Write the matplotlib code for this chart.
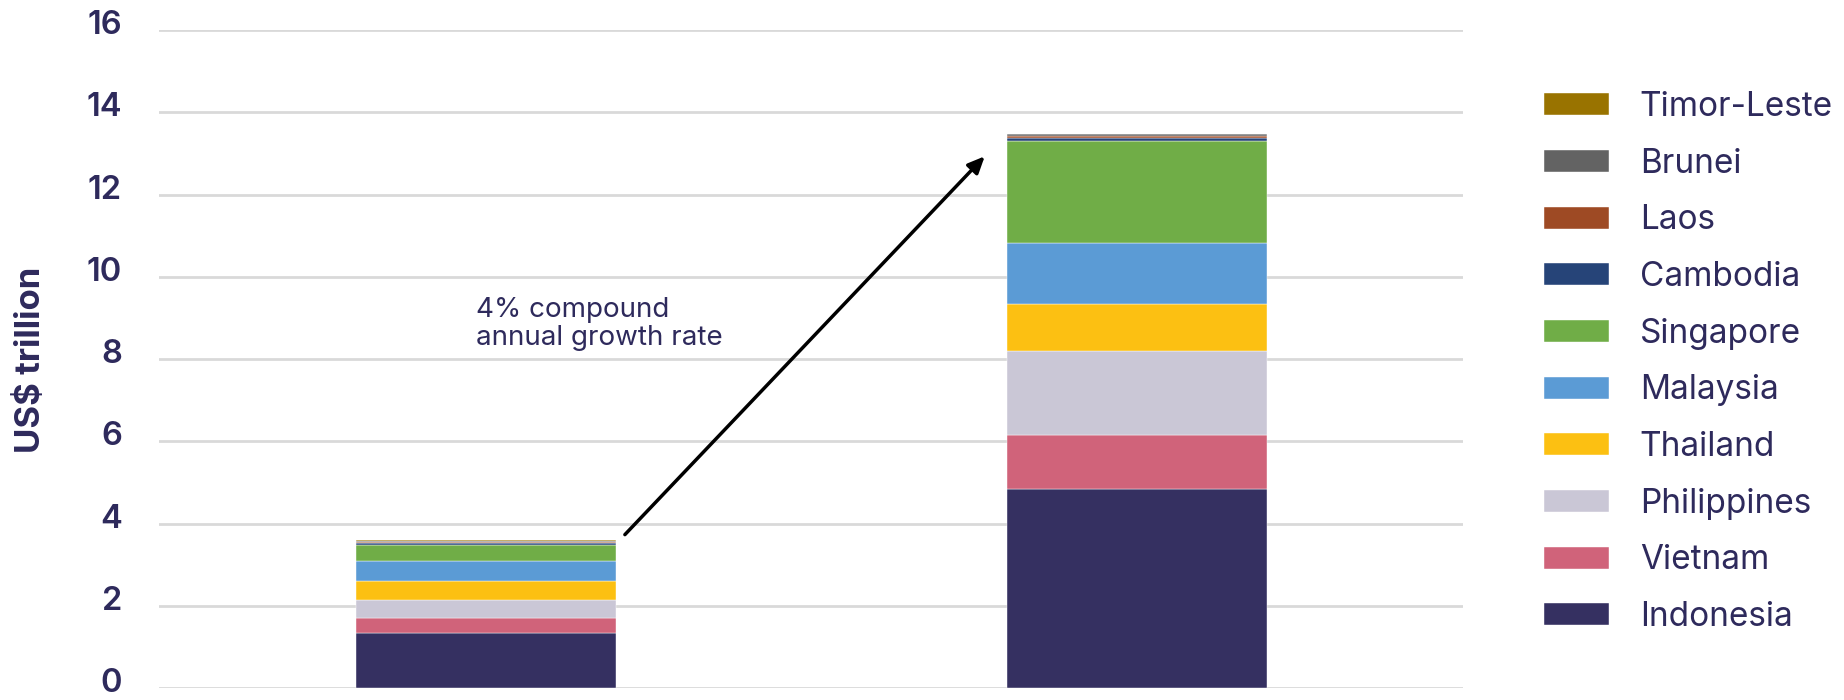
import matplotlib
matplotlib.use("Agg")
import matplotlib.pyplot as plt
import matplotlib.transforms as mtransforms
import numpy as np

years = ["Current", "Future"]
countries = ["Indonesia", "Vietnam", "Philippines", "Thailand", "Malaysia",
             "Singapore", "Cambodia", "Laos", "Brunei", "Timor-Leste"]
indonesia   = [1.33, 4.84]
vietnam     = [0.37, 1.32]
philippines = [0.43, 2.03]
thailand    = [0.47, 1.15]
malaysia    = [0.49, 1.47]
singapore   = [0.39, 2.49]
cambodia    = [0.04, 0.08]
laos        = [0.02, 0.05]
brunei      = [0.03, 0.03]
timor_leste = [0.02, 0.02]
y_ticks = [0, 2, 4, 6, 8, 10, 12, 14, 16]
annotation_text = "4% compound\nannual growth rate"

series = [indonesia, vietnam, philippines, thailand, malaysia,
          singapore, cambodia, laos, brunei, timor_leste]
colors = ["#353061", "#d0637a", "#cac7d6", "#fcc012", "#5b9bd5",
          "#70ad47", "#264478", "#9e4a24", "#636363", "#997300"]

navy = "#2e2a5c"
plt.rcParams['font.family'] = ['Inter', 'DejaVu Sans']

fig = plt.figure(figsize=(18.44, 7.0), dpi=100)
ax = fig.add_axes([0.0862, 0.0171, 0.7072, 0.9400])

x = np.arange(len(years))
bottom = np.zeros(len(years))
handles = []
for name, vals, c in zip(countries, series, colors):
    b = ax.bar(x, vals, width=0.40, bottom=bottom, color=c, label=name,
               edgecolor='white', linewidth=0.3, zorder=3)
    handles.append(b)
    bottom = bottom + np.array(vals)

ax.set_ylim(0, 16)
ax.set_xlim(-0.503, 1.501)
ax.set_yticks(y_ticks)
ax.set_yticklabels([str(t) for t in y_ticks], fontsize=23.5, color=navy, fontweight='semibold')
ax.tick_params(axis='y', length=0, pad=26.6)
offset = mtransforms.ScaledTranslation(0, 8 / 100, fig.dpi_scale_trans)
for lbl in ax.get_yticklabels():
    lbl.set_transform(lbl.get_transform() + offset)
ax.set_xticks([])
ax.grid(axis='y', color='#d9d9d9', linewidth=2, zorder=0)
for s in ax.spines.values():
    s.set_visible(False)

ax.set_ylabel("US$ trillion", fontsize=25, fontweight='bold', color=navy)
ax.yaxis.set_label_coords(-0.086, 0.499)

totals = bottom
ax.annotate("", xy=(x[1] - 0.234, totals[1] - 0.55), xytext=(x[0] + 0.213, totals[0] + 0.14),
            arrowprops=dict(arrowstyle='-|>,head_length=1.0,head_width=0.45',
                            color='black', lw=2.5, shrinkA=0, shrinkB=0), zorder=5)
ax.text(-0.016, 9.5, annotation_text, fontsize=20, color=navy, va='top', ha='left',
        linespacing=1.08)

leg = fig.legend(handles[::-1], countries[::-1], loc='upper left',
                 bbox_to_anchor=(0.830, 0.889), frameon=False, fontsize=24,
                 handlelength=1.95, handleheight=0.63, handletextpad=0.93,
                 labelspacing=0.74, borderaxespad=0)
for t in leg.get_texts():
    t.set_color(navy)

fig.savefig("out.png", dpi=100)
